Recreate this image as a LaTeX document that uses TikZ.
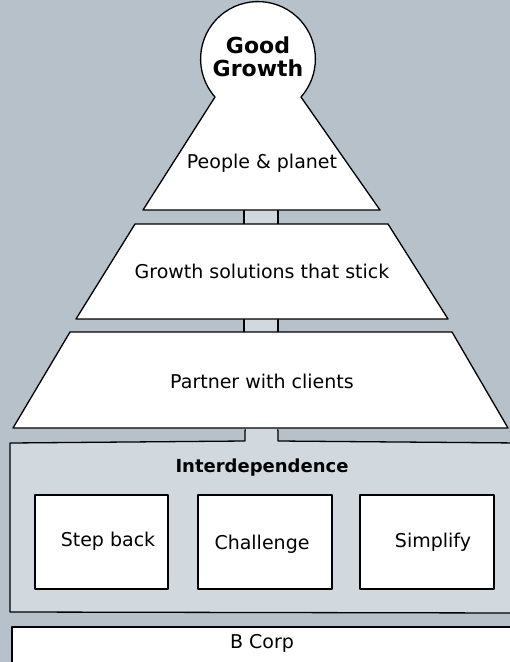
\documentclass[tikz,border=0pt]{standalone}
\usepackage{fontspec}
\setmainfont{DejaVu Sans}
\definecolor{bg}{HTML}{B6C1CA}
\definecolor{light}{HTML}{D1D9DF}
\tikzset{
  panel/.style={draw=black,line width=1.3pt,fill=white,line join=round},
  bar/.style={fill=light,draw=none},
  barline/.style={draw=black,line width=1.1pt},
  lbl/.style={font=\fontsize{19}{21}\selectfont,inner sep=0pt},
  title/.style={font=\fontsize{22}{24}\selectfont\bfseries,inner sep=0pt},
}
\begin{document}
\begin{tikzpicture}[x=1pt,y=-1pt]
\useasboundingbox (0,0) rectangle (510,662);
\clip (0,0) rectangle (510,662);
\fill[bg] (0,0) rectangle (510,662);
% bars (connectors)
\fill[bar] (244,205) rectangle (278,228);
\draw[barline] (244,208) -- (244,224) (278,208) -- (278,224);
\fill[bar] (244,315) rectangle (278,337);
\draw[barline] (244,317) -- (244,333) (278,317) -- (278,333);
% interdependence box
\draw[panel,fill=light] (10,443) -- (245,441) -- (245,430) -- (278,430) -- (278,441) -- (520,443) -- (520,613) -- (10,612) -- cycle;
\fill[bar] (246,426) rectangle (277,446);
% top: circle + triangle
\draw[panel] (143,210) -- (215,97) arc[start angle=138.5,end angle=401.5,radius=57.4] -- (380,210) -- cycle;
\draw[panel] (135,224) -- (388,224) -- (448,319) -- (76,319) -- cycle;
\draw[panel] (70,332) -- (452,332) -- (508,428) -- (13,428) -- cycle;
% inner boxes
\draw[panel] (35,495) rectangle (168,589);
\draw[panel] (198,495) rectangle (332,589);
\draw[panel] (360,495) rectangle (494,589);
% B Corp
\draw[panel] (12,627) -- (520,627) -- (520,670) -- (12,670) -- cycle;
% labels
\node[title] (good) at (258,45) {Good};
\node[title] (growth) at (258,68) {Growth};
\node[lbl] (pp) at (262,163) {People \& planet};
\node[lbl] (gs) at (262,271) {Growth solutions that stick};
\node[lbl] (pc) at (262,381) {Partner with clients};
\node[lbl,font=\fontsize{18}{20}\selectfont\bfseries] (int) at (262,468) {Interdependence};
\node[lbl] (sb) at (108,541) {Step back};
\node[lbl] (ch) at (262,544) {Challenge};
\node[lbl] (si) at (433,542) {Simplify};
\node[lbl] (bc) at (262,643) {B Corp};
\end{tikzpicture}
\end{document}
